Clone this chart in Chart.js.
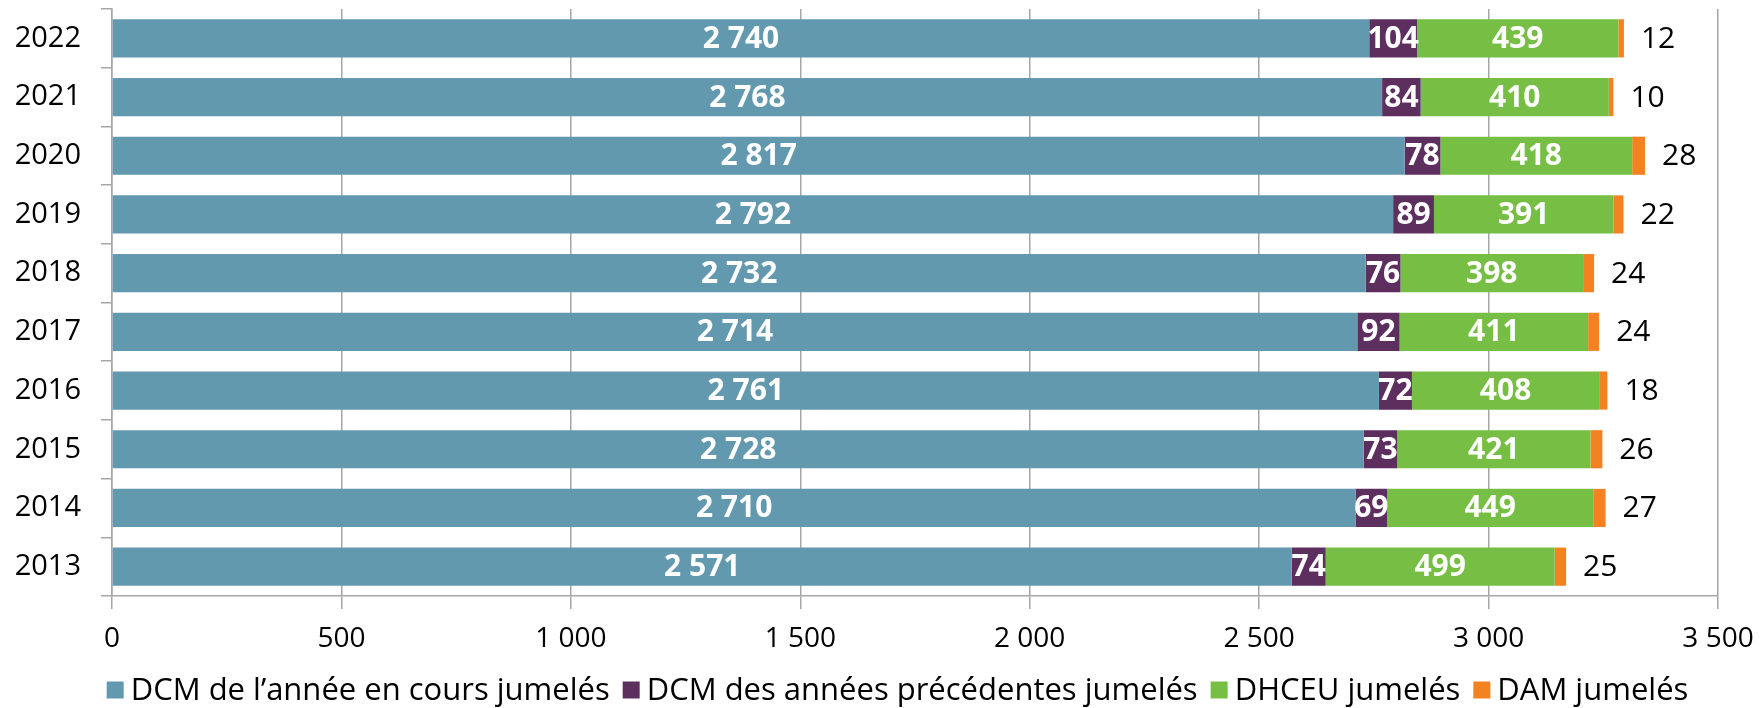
<!DOCTYPE html>
<html lang="fr">
<head>
<meta charset="UTF-8">
<title>Jumelages</title>
<script src="https://cdn.jsdelivr.net/npm/chart.js"></script>
<style>
  html, body { margin: 0; padding: 0; background: #fff; }
  .wrap { width: 1763px; height: 708px; position: relative; }
</style>
</head>
<body>
<div class="wrap"><canvas id="chart"></canvas></div>
<script>
const years = ["2022", "2021", "2020", "2019", "2018", "2017", "2016", "2015", "2014", "2013"];
const seriesNames = ["DCM de l\u2019année en cours jumelés", "DCM des années précédentes jumelés", "DHCEU jumelés", "DAM jumelés"];
const dcmCurrent = [2740, 2768, 2817, 2792, 2732, 2714, 2761, 2728, 2710, 2571];
const dcmPrevious = [104, 84, 78, 89, 76, 92, 72, 73, 69, 74];
const dhceu = [439, 410, 418, 391, 398, 411, 408, 421, 449, 499];
const dam = [12, 10, 28, 22, 24, 24, 18, 26, 27, 25];
const colors = ["#6399AE", "#5C2F5F", "#77BF44", "#F58220"];

const FONT = "'Open Sans', sans-serif";

function fmt(v) {
  return String(v).replace(/\B(?=(\d{3})+(?!\d))/g, " ");
}

// labels on bars: white bold centred, last series black beside the bar
const valueLabels = {
  id: "valueLabels",
  afterDatasetsDraw(chart) {
    const ctx = chart.ctx;
    chart.data.datasets.forEach((ds, i) => {
      const meta = chart.getDatasetMeta(i);
      meta.data.forEach((bar, j) => {
        ctx.save();
        ctx.textBaseline = "middle";
        if (i < 3) {
          ctx.font = "bold 30px " + FONT;
          ctx.fillStyle = "#fff";
          ctx.textAlign = "center";
          ctx.fillText(fmt(ds.data[j]), (bar.x + bar.base) / 2, bar.y + 1);
        } else {
          ctx.font = "30px " + FONT;
          ctx.fillStyle = "#000";
          ctx.textAlign = "left";
          ctx.fillText(fmt(ds.data[j]), bar.x + 17, bar.y + 1);
        }
        ctx.restore();
      });
    });
  }
};

// legend drawn under the axis, tighter than the built-in one
const bottomLegend = {
  id: "bottomLegend",
  afterDraw(chart) {
    const ctx = chart.ctx;
    const box = 17, gapText = 7, gapItem = 13, cy = 690;
    ctx.save();
    ctx.font = "31px " + FONT;
    const widths = chart.data.datasets.map(ds => box + gapText + ctx.measureText(ds.label).width);
    const total = widths.reduce((a, b) => a + b, 0) + gapItem * (widths.length - 1);
    let x = chart.width / 2 + 16 - total / 2;
    ctx.textBaseline = "middle";
    ctx.textAlign = "left";
    chart.data.datasets.forEach((ds, i) => {
      ctx.fillStyle = ds.backgroundColor;
      ctx.fillRect(x, cy - box / 2, box, box);
      ctx.fillStyle = "#000";
      ctx.fillText(ds.label, x + box + gapText, cy + 1);
      x += widths[i] + gapItem;
    });
    ctx.restore();
  }
};

const values = [dcmCurrent, dcmPrevious, dhceu, dam];

new Chart(document.getElementById("chart"), {
  type: "bar",
  data: {
    labels: years,
    datasets: values.map((d, i) => ({
      label: seriesNames[i],
      data: d,
      backgroundColor: colors[i],
      borderWidth: 0,
      barPercentage: 0.65,
      categoryPercentage: 1
    }))
  },
  options: {
    indexAxis: "y",
    responsive: true,
    maintainAspectRatio: false,
    animation: false,
    layout: { padding: { top: 9, right: 45, left: 0, bottom: 60 } },
    scales: {
      x: {
        stacked: true,
        min: 0,
        max: 3500,
        ticks: {
          stepSize: 500,
          color: "#000",
          font: { family: FONT, size: 28 },
          padding: 13,
          callback: v => fmt(v)
        },
        grid: { color: "#A6A6A6", lineWidth: 1.5, tickLength: 13 },
        border: { color: "#A6A6A6", width: 1.5 },
        afterFit: s => { s.paddingLeft = 0; s.paddingRight = 0; s.height = 52; }
      },
      y: {
        stacked: true,
        ticks: {
          color: "#000",
          font: { family: FONT, size: 29 },
          padding: 20
        },
        grid: { drawOnChartArea: false, color: "#A6A6A6", lineWidth: 1.5, tickLength: 11, offset: true },
        border: { color: "#A6A6A6", width: 1.5 },
        afterFit: s => { s.width = 112; s.paddingTop = 0; s.paddingBottom = 0; }
      }
    },
    plugins: {
      legend: { display: false },
      tooltip: { enabled: false }
    }
  },
  plugins: [valueLabels, bottomLegend]
});
</script>
</body>
</html>
